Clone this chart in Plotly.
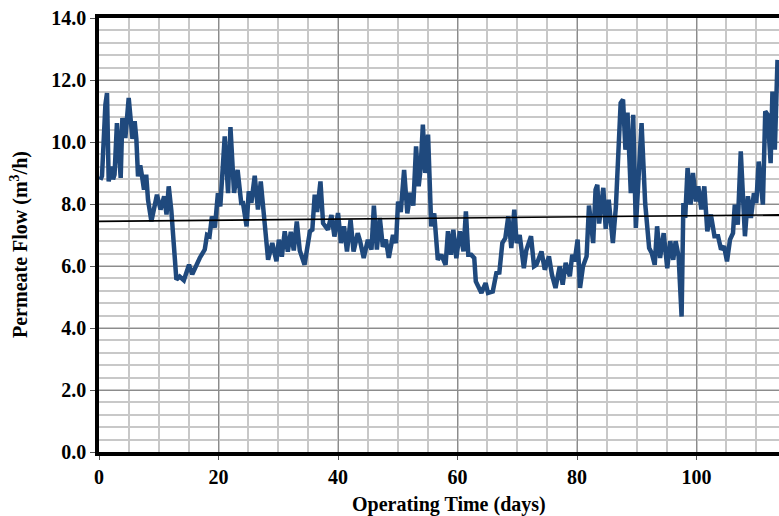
import plotly.graph_objects as go

# Operating time (days) and measured permeate flow (m3/h)
days = [
    0.23, 0.5, 1.07, 1.34, 1.62, 2.07, 2.35, 2.6, 3.0, 3.3, 3.63, 3.91, 4.41, 4.97, 5.4, 5.6,
    5.97, 6.25, 6.53, 6.9, 7.2, 7.53, 7.9, 8.2, 8.77, 9.3, 9.7, 10.3, 10.9, 11.3, 11.67, 12.1,
    12.4, 12.95, 13.5, 14.2, 15.07, 15.6, 16.86, 17.7, 18.08, 18.5, 18.9, 19.4, 19.9, 20.3,
    21.04, 21.6, 22.0, 22.6, 23.2, 23.8, 24.1, 24.7, 25.06, 25.5, 26.06, 26.6, 27.07, 27.7,
    28.3, 29.0, 29.7, 30.1, 30.6, 31.08, 31.6, 32.1, 32.6, 33.1, 33.6, 34.4, 35.3, 35.7,
    36.1, 36.5, 37.06, 37.5, 38.3, 38.9, 39.4, 40.0, 40.5, 41.0, 41.5, 42.1, 42.6, 43.3,
    43.7, 44.3, 45.0, 45.6, 46.0, 46.5, 47.0, 47.5, 48.0, 48.5, 49.2, 49.7, 50.05, 50.5,
    51.06, 51.6, 52.1, 52.6, 53.06, 53.5, 53.8, 54.2, 54.6, 55.07, 55.6, 56.1, 56.7, 57.3,
    58.0, 58.4, 58.9, 59.3, 59.8, 60.4, 61.0, 61.4, 61.8, 62.3, 62.8, 63.06, 64.0, 64.7,
    65.1, 65.9, 66.5, 67.0, 67.5, 68.0, 68.5, 69.0, 69.5, 69.9, 70.4, 71.1, 71.5, 72.3,
    72.8, 73.2, 74.05, 74.6, 75.3, 75.8, 76.4, 77.1, 77.6, 78.1, 78.8, 79.2, 79.6, 80.1,
    80.5, 81.0, 81.6, 82.0, 82.7, 83.1, 83.4, 83.7, 84.4, 84.8, 85.3, 86.0, 86.5, 87.3,
    87.7, 88.1, 88.45, 89.0, 89.4, 89.84, 90.2, 90.8, 91.4, 92.07, 92.5, 93.0, 93.4, 93.9,
    94.5, 95.1, 95.6, 96.1, 96.5, 97.0, 97.5, 97.8, 98.1, 98.5, 99.0, 99.4, 99.9, 100.3,
    100.8, 101.3, 101.8, 102.4, 103.0, 103.6, 104.1, 104.6, 105.1, 105.6, 106.1, 106.4,
    106.9, 107.4, 108.1, 108.6, 109.1, 109.6, 110.0, 110.4, 111.1, 111.5, 111.9, 112.4,
    112.7, 113.1, 113.55,
]
flow = [
    8.78, 8.9, 11.2, 11.58, 8.73, 9.21, 8.8, 8.95, 10.61, 9.6, 8.84, 10.77, 10.13, 11.42, 10.6, 10.1,
    10.67, 10.1, 8.89, 9.25, 8.9, 8.46, 8.95, 8.14, 7.44, 8.0, 8.3, 7.82, 8.25, 7.66, 8.57, 7.8,
    6.8, 5.56, 5.66, 5.54, 6.04, 5.73, 6.26, 6.53, 7.0, 6.96, 7.6, 7.24, 8.35, 7.92,
    10.18, 8.35, 10.48, 8.36, 9.1, 8.03, 8.03, 7.28, 8.41, 8.04, 8.91, 7.82, 8.73, 7.2,
    6.2, 6.74, 6.15, 6.85, 6.3, 7.12, 6.46, 7.1, 6.5, 7.44, 6.5, 6.04, 7.12, 7.17,
    8.3, 7.74, 8.73, 7.38, 7.17, 7.64, 6.95, 7.71, 6.74, 7.28, 6.47, 7.49, 6.47, 7.06,
    6.8, 6.26, 6.85, 6.53, 7.95, 6.53, 7.55, 6.62, 6.85, 6.26, 7.0, 6.74, 8.08, 7.74,
    9.1, 7.7, 8.36, 7.95, 9.86, 8.57, 9.1, 10.56, 9.0, 10.24, 7.28, 7.7, 6.2, 6.36,
    6.04, 7.12, 6.36, 7.17, 6.25, 7.12, 6.47, 7.76, 6.36, 6.36, 6.26, 5.5, 5.13, 5.45,
    5.13, 5.18, 5.77, 5.79, 6.74, 6.9, 7.6, 6.58, 7.82, 6.74, 7.0, 5.93, 6.5, 6.96,
    5.99, 6.04, 6.47, 5.88, 6.31, 5.72, 5.29, 5.99, 5.4, 6.1, 5.67, 6.36, 6.15, 6.85,
    5.29, 5.99, 6.31, 7.95, 6.74, 8.46, 8.62, 7.37, 8.52, 7.2, 8.14, 6.74, 7.9, 11.26,
    11.37, 9.75, 10.95, 8.35, 10.88, 7.23, 8.46, 10.61, 8.03, 6.58, 6.42, 6.04, 7.28, 6.26,
    7.06, 5.93, 6.8, 6.2, 6.8, 6.31, 4.37, 8.03, 7.55, 9.16, 7.98, 9.0, 8.08, 8.57,
    7.82, 8.57, 7.12, 7.66, 6.96, 6.96, 6.53, 6.64, 6.15, 6.85, 7.06, 7.98,
    7.33, 9.7, 6.96, 8.25, 7.55, 8.35, 8.03, 9.37, 7.98, 10.99, 10.88, 9.32,
    11.63, 9.75, 12.65,
]

# Linear trend of the flow series
trend_days = [0, 113.8]
trend_flow = [7.44, 7.65]

x_ticks = [0, 20, 40, 60, 80, 100]
y_ticks = [0, 2, 4, 6, 8, 10, 12, 14]
y_tick_text = [f"{v:.1f}" for v in y_ticks]

FONT = "Liberation Serif"

fig = go.Figure()
fig.add_trace(go.Scatter(
    x=days, y=flow, mode="lines",
    line=dict(color="#1F497D", width=4.5),
    hoverinfo="skip", showlegend=False,
))
fig.add_trace(go.Scatter(
    x=trend_days, y=trend_flow, mode="lines",
    line=dict(color="#000000", width=1.6),
    hoverinfo="skip", showlegend=False,
))

fig.update_layout(
    width=779, height=516,
    margin=dict(l=99, r=0, t=18, b=64),
    paper_bgcolor="white", plot_bgcolor="white",
    font=dict(family=FONT, size=20, color="black"),
    xaxis=dict(
        range=[0, 113.8], tickvals=x_ticks, ticktext=[str(v) for v in x_ticks],
        showgrid=True, gridcolor="#8c8c8c", gridwidth=1.3,
        minor=dict(dtick=5, tick0=0, showgrid=True, gridcolor="#c8c8c8", gridwidth=2),
        showline=True, linecolor="black", linewidth=3.5, mirror=True,
        ticks="outside", ticklen=4, tickcolor="#555", tickwidth=1,
        tickfont=dict(family=FONT, size=20, color="black", weight="bold"),
        zeroline=False,
    ),
    yaxis=dict(
        range=[0, 14], tickvals=y_ticks, ticktext=y_tick_text,
        showgrid=True, gridcolor="#8c8c8c", gridwidth=1.3,
        minor=dict(dtick=0.4, tick0=0, showgrid=True, gridcolor="#c8c8c8", gridwidth=2),
        showline=True, linecolor="black", linewidth=3.5, mirror=False,
        ticks="outside", ticklen=5, tickcolor="#555", tickwidth=1,
        tickfont=dict(family=FONT, size=20, color="black", weight="bold"),
        zeroline=False,
    ),
    annotations=[
        dict(text="<b>Operating Time (days)</b>", xref="paper", yref="paper",
             x=0.515, y=-0.122, xanchor="center", yanchor="middle", showarrow=False,
             font=dict(family=FONT, size=20, color="black")),
        dict(text="<b>Permeate Flow (m<sup>3</sup>/h)</b>", xref="paper", yref="paper",
             x=-0.117, y=0.478, xanchor="center", yanchor="middle", textangle=-90,
             showarrow=False, font=dict(family=FONT, size=20, color="black")),
    ],
)

fig.write_html("out.html")
